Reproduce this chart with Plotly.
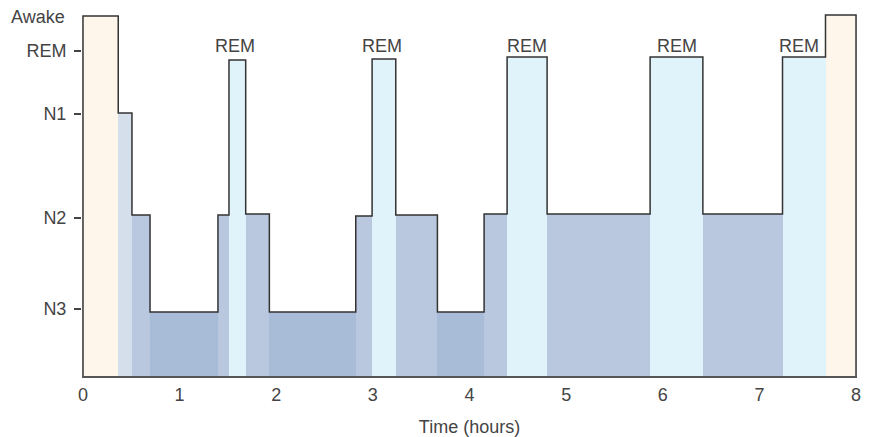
import plotly.graph_objects as go

# Sleep stage segments (hours)
seg_start = [0.0, 0.365, 0.507, 0.694, 1.397, 1.511, 1.684, 1.929, 2.823, 2.992,
             3.237, 3.668, 4.151, 4.389, 4.803, 5.869, 6.415, 7.239, 7.684]
seg_end = seg_start[1:] + [8.0]
seg_stage = ["Awake", "N1", "N2", "N3", "N2", "REM", "N2", "N3", "N2", "REM",
             "N2", "N3", "N2", "REM", "N2", "REM", "N2", "REM", "Awake"]
seg_level = [3.60, 2.63, 1.61, 0.64, 1.61, 3.16, 1.62, 0.64, 1.60, 3.17,
             1.61, 0.64, 1.62, 3.19, 1.62, 3.19, 1.62, 3.19, 3.61]

stage_colors = {"Awake": "#FEF6EA", "REM": "#E0F2FA", "N1": "#D5DEEB",
                "N2": "#B9C8DF", "N3": "#A8BBD7"}

tick_labels = ["REM", "N1", "N2", "N3"]
tick_values = [3.25, 2.62, 1.58, 0.67]
awake_label_y = 3.59

rem_label_x = [1.574, 3.095, 4.596, 6.146, 7.413]
rem_label_y = 3.30

x_ticks = [0, 1, 2, 3, 4, 5, 6, 7, 8]

text_color = "#444444"
font_family = "Liberation Sans, Arial, sans-serif"
fs = 18

fig = go.Figure()

# filled blocks
fig.add_trace(go.Bar(
    x=[(s + e) / 2 for s, e in zip(seg_start, seg_end)],
    y=seg_level,
    width=[e - s for s, e in zip(seg_start, seg_end)],
    base=0,
    marker=dict(color=[stage_colors[s] for s in seg_stage], line=dict(width=0)),
    hoverinfo="skip",
    showlegend=False,
))

# step outline
fig.add_trace(go.Scatter(
    x=[0.0] + seg_start + [8.0],
    y=[0.0] + seg_level + [0.0],
    mode="lines",
    line=dict(shape="hv", color="#333333", width=1.5),
    hoverinfo="skip",
    showlegend=False,
))

for xv in rem_label_x:
    fig.add_annotation(x=xv, y=rem_label_y, text="REM", showarrow=False,
                       xanchor="center", yanchor="middle",
                       font=dict(size=fs, color=text_color, family=font_family))

fig.add_annotation(x=0, xref="paper", y=awake_label_y, yref="y", text="Awake",
                   showarrow=False, xanchor="right", yanchor="middle", xshift=-15,
                   font=dict(size=fs, color=text_color, family=font_family))

fig.update_layout(
    width=871, height=437,
    margin=dict(l=82, r=14, t=10, b=61),
    plot_bgcolor="white", paper_bgcolor="white",
    font=dict(family=font_family, size=fs, color=text_color),
    bargap=0,
)

fig.update_xaxes(
    range=[-0.01, 8.01], tickvals=x_ticks, ticks="", showgrid=False, zeroline=False,
    showline=True, linecolor="#555555", linewidth=1.5,
    ticklabelstandoff=2, automargin=False,
    title=dict(text="Time (hours)", standoff=20, font=dict(size=fs, color=text_color)),
)
fig.update_yaxes(
    range=[0, 3.66], tickvals=tick_values, ticktext=tick_labels,
    ticks="outside", ticklen=7, tickwidth=1.5, tickcolor="#444444",
    showgrid=False, zeroline=False, showline=False,
    ticklabelstandoff=4, automargin=False,
)

fig.write_html(
    "out.html",
    config={"displayModeBar": False},
    post_script="document.body.style.margin='0';document.documentElement.style.overflow='hidden';",
)
